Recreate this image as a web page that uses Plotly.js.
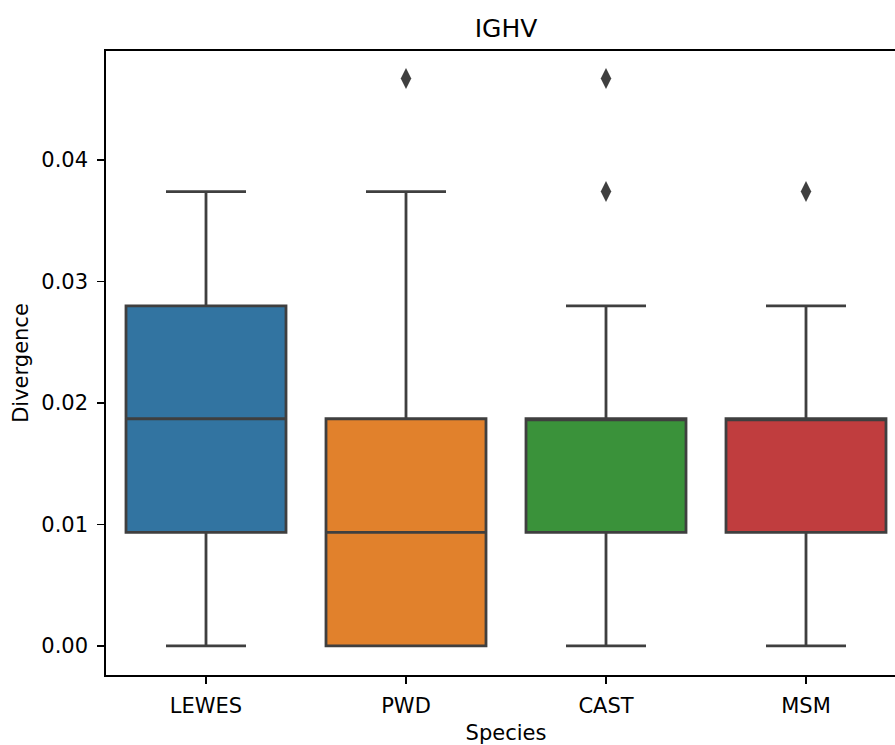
<!DOCTYPE html>
<html>
<head>
<meta charset="utf-8">
<script src="https://cdn.plot.ly/plotly-3.0.1.min.js"></script>
<style>
html, body { margin: 0; padding: 0; overflow: hidden; background: #fff; }
#chart { width: 920px; height: 745px; }
</style>
</head>
<body>
<div id="chart"></div>
<script>
const categories = ['LEWES', 'PWD', 'CAST', 'MSM'];
const lowerWhisker = [0.0, 0.0, 0.0, 0.0];
const q1Values = [0.00935, 0.0, 0.00935, 0.00935];
const medianValues = [0.0187, 0.00935, 0.0187, 0.0187];
const q3Values = [0.028, 0.0187, 0.0187, 0.0187];
const upperWhisker = [0.0374, 0.0374, 0.028, 0.028];
const outlierSpecies = ['PWD', 'CAST', 'CAST', 'MSM'];
const outlierValues = [0.0467, 0.0467, 0.0374, 0.0374];
const yTickValues = [0, 0.01, 0.02, 0.03, 0.04];
const colors = ['#3274a1', '#e1812c', '#3a923a', '#c03d3e'];

const traces = categories.map((c, i) => ({
  type: 'box',
  x: [c],
  q1: [q1Values[i]],
  median: [medianValues[i]],
  q3: [q3Values[i]],
  lowerfence: [lowerWhisker[i]],
  upperfence: [upperWhisker[i]],
  fillcolor: colors[i],
  line: { color: '#3f3f3f', width: 2.8 },
  width: 0.8,
  whiskerwidth: 0.5,
  boxpoints: false,
  hoverinfo: 'skip',
  showlegend: false
}));

traces.push({
  type: 'scatter',
  mode: 'markers',
  x: outlierSpecies,
  y: outlierValues,
  marker: { symbol: 'diamond-tall', size: 15, color: '#3f3f3f' },
  hoverinfo: 'skip',
  showlegend: false
});

const layout = {
  width: 920,
  height: 745,
  margin: { l: 106, r: 14, t: 51, b: 70 },
  paper_bgcolor: '#ffffff',
  plot_bgcolor: '#ffffff',
  font: { family: 'DejaVu Sans', size: 21, color: '#000' },
  title: { text: 'IGHV', font: { size: 25, color: '#000' }, xref: 'paper', x: 0.5, xanchor: 'center', yref: 'container', y: 0.962, yanchor: 'middle' },
  boxmode: 'overlay',
  showlegend: false,
  xaxis: {
    type: 'category',
    categoryorder: 'array',
    categoryarray: categories,
    range: [-0.5, 3.5],
    showline: true, linecolor: '#000', linewidth: 1.7, mirror: true,
    ticks: 'outside', ticklen: 7, tickwidth: 1.7, tickcolor: '#000',
    ticklabelstandoff: 4,
    showgrid: false, zeroline: false,
    tickfont: { size: 21 },
    title: { text: 'Species', font: { size: 21 }, standoff: 8 }
  },
  yaxis: {
    range: [-0.00239, 0.04897],
    tickvals: yTickValues,
    tickformat: '.2f',
    showline: true, linecolor: '#000', linewidth: 1.7, mirror: true,
    ticks: 'outside', ticklen: 7, tickwidth: 1.7, tickcolor: '#000',
    ticklabelstandoff: 5,
    showgrid: false, zeroline: false,
    tickfont: { size: 21 },
    title: { text: 'Divergence', font: { size: 21 }, standoff: 7 }
  }
};

Plotly.newPlot('chart', traces, layout, { displayModeBar: false, staticPlot: true });
</script>
</body>
</html>
